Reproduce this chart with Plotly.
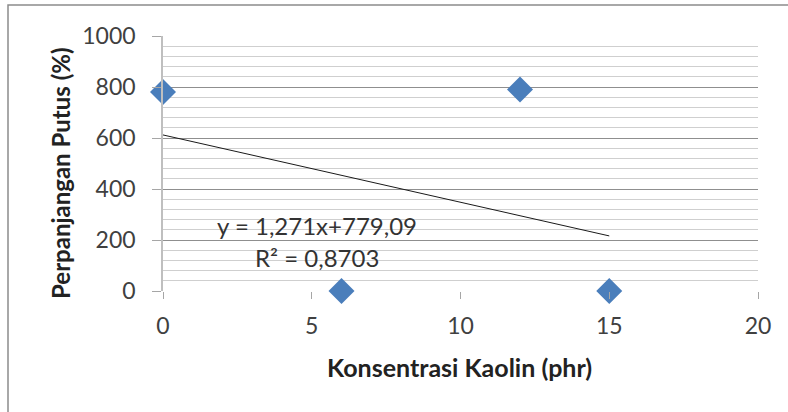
import plotly.graph_objects as go

# Data
kaolin_phr = [0, 6, 12, 15]
elongation_pct = [780, 0, 790, 0]

trend_x = [0, 15]
trend_y = [612, 216]

equation_text = "y = 1,271x+779,09"
r2_text = "R² = 0,8703"

x_title = "Konsentrasi Kaolin (phr)"
y_title = "Perpanjangan Putus (%)"

x_ticks = [0, 5, 10, 15, 20]

FONT = "Lato, Open Sans, sans-serif"

fig = go.Figure()

fig.add_trace(go.Scatter(
    x=trend_x, y=trend_y, mode="lines",
    line=dict(color="#1a1a1a", width=1),
    showlegend=False, hoverinfo="skip",
))

fig.add_trace(go.Scatter(
    x=kaolin_phr, y=elongation_pct, mode="markers",
    marker=dict(symbol="diamond", size=20, color="#4a7ebb",
                line=dict(width=0)),
    showlegend=False, cliponaxis=False,
))

fig.add_annotation(x=5.18, y=255, text=equation_text, showarrow=False,
                   xanchor="center", yanchor="middle",
                   font=dict(family=FONT, size=24, color="#333333"))
fig.add_annotation(x=5.18, y=133, text=r2_text, showarrow=False,
                   xanchor="center", yanchor="middle",
                   font=dict(family=FONT, size=24, color="#333333"))

# axis titles
fig.add_annotation(xref="paper", yref="paper", x=0.4975, y=-0.298,
                   xanchor="center", yanchor="middle",
                   text="<b>" + x_title + "</b>", showarrow=False,
                   font=dict(family=FONT, size=25, color="#222222"))
fig.add_annotation(xref="paper", yref="paper", x=-0.1714, y=0.459,
                   xanchor="center", yanchor="middle",
                   text="<b>" + y_title + "</b>", showarrow=False,
                   textangle=-90,
                   font=dict(family=FONT, size=24, color="#222222"))

# outer chart border (top and left visible)
fig.add_shape(type="rect", xref="paper", yref="paper",
              x0=-0.2605, x1=1.3, y0=-0.7, y1=1.1216,
              line=dict(color="#8c8c8c", width=1.5), layer="below")

fig.update_layout(
    width=788, height=412,
    margin=dict(l=163, r=30, t=36, b=121),
    paper_bgcolor="white", plot_bgcolor="white",
    font=dict(family=FONT, color="#404040"),
    xaxis=dict(
        range=[0, 20], tickvals=x_ticks, showgrid=False,
        zeroline=False, showline=False, automargin=False,
        ticks="outside", ticklen=7, tickcolor="#a6a6a6",
        ticklabelstandoff=7,
        tickfont=dict(size=23, color="#404040"),
    ),
    yaxis=dict(
        range=[0, 1000], tick0=0, dtick=200,
        showgrid=True, gridcolor="#8f8f8f", gridwidth=1,
        minor=dict(tick0=0, dtick=40, showgrid=True, gridcolor="#cfcfcf",
                   gridwidth=1, ticks=""),
        zeroline=False, showline=True, linecolor="#bfbfbf", linewidth=1.5,
        automargin=False,
        ticks="outside", ticklen=9, tickcolor="#a6a6a6",
        ticklabelstandoff=12,
        tickfont=dict(size=23, color="#404040"),
    ),
)

fig.write_html("out.html",
               config={"displayModeBar": False},
               post_script="document.body.style.margin='0';")
